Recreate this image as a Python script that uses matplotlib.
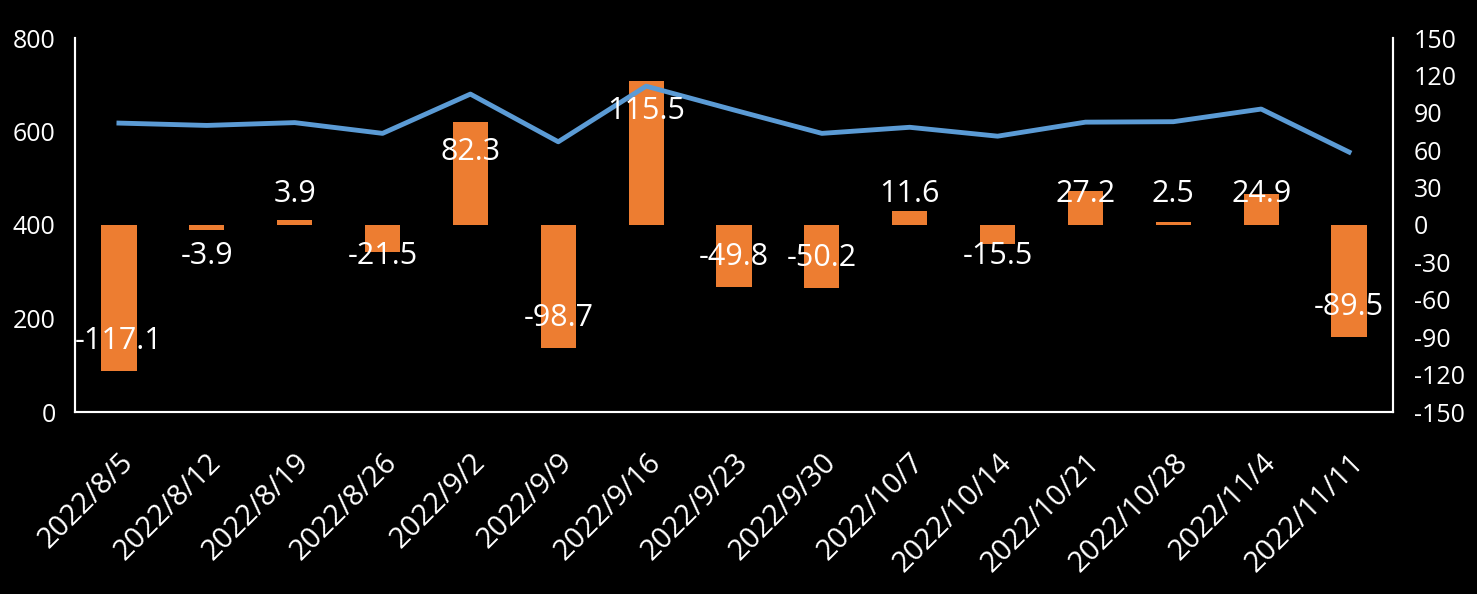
import numpy as np
import matplotlib.pyplot as plt

plt.rcParams["font.family"] = ["Open Sans", "DejaVu Sans"]
plt.rcParams["axes.unicode_minus"] = False

dates = ["2022/8/5", "2022/8/12", "2022/8/19", "2022/8/26", "2022/9/2", "2022/9/9",
         "2022/9/16", "2022/9/23", "2022/9/30", "2022/10/7", "2022/10/14",
         "2022/10/21", "2022/10/28", "2022/11/4", "2022/11/11"]
level = [618, 613, 619, 596, 680, 578, 697, 646, 596, 609, 590, 620, 621, 648, 556]
change = [-117.1, -3.9, 3.9, -21.5, 82.3, -98.7, 115.5, -49.8, -50.2, 11.6,
          -15.5, 27.2, 2.5, 24.9, -89.5]

BAR_COLOR = "#ED7D31"
LINE_COLOR = "#5B9BD5"

fig = plt.figure(figsize=(14.77, 5.94), dpi=100, facecolor="black")
ax = fig.add_axes([75 / 1477, 182 / 594, 1318 / 1477, 374 / 594])
ax2 = ax.twinx()

x = np.arange(len(dates))

# bars on the right axis
ax2.bar(x, change, width=0.4, color=BAR_COLOR, zorder=1)
ax2.set_ylim(-150, 150)
ax2.set_yticks(np.arange(-150, 151, 30))

# line on the left axis, drawn above the bars
ax.set_zorder(ax2.get_zorder() + 1)
ax.patch.set_visible(False)
ax.plot(x, level, color=LINE_COLOR, lw=3.5, zorder=2)
ax.set_ylim(0, 800)
ax.set_yticks(np.arange(0, 801, 200))
ax.set_xlim(-0.5, len(dates) - 0.5)
ax.set_xticks(x)
ax.set_xticklabels(dates, rotation=45, ha="right", rotation_mode="anchor")

# value labels (in bar units), on top of everything
for xi, v in zip(x, change):
    ly = np.sign(v) * max(abs(v) - 24, 24.5)
    ax.text(xi, ly, f"{v:.1f}", color="white", fontsize=22, ha="center",
            va="center", transform=ax2.transData, zorder=3)

for a in (ax, ax2):
    a.tick_params(colors="white", labelsize=18, length=0)
    a.spines["top"].set_visible(False)
    for s in ("left", "right", "bottom"):
        a.spines[s].set_color("white")
        a.spines[s].set_linewidth(1.5)
ax.tick_params(axis="x", labelsize=21, pad=26)
ax.tick_params(axis="y", pad=14)
ax2.tick_params(axis="y", pad=15)

fig.savefig("out.png", dpi=100, facecolor="black")
